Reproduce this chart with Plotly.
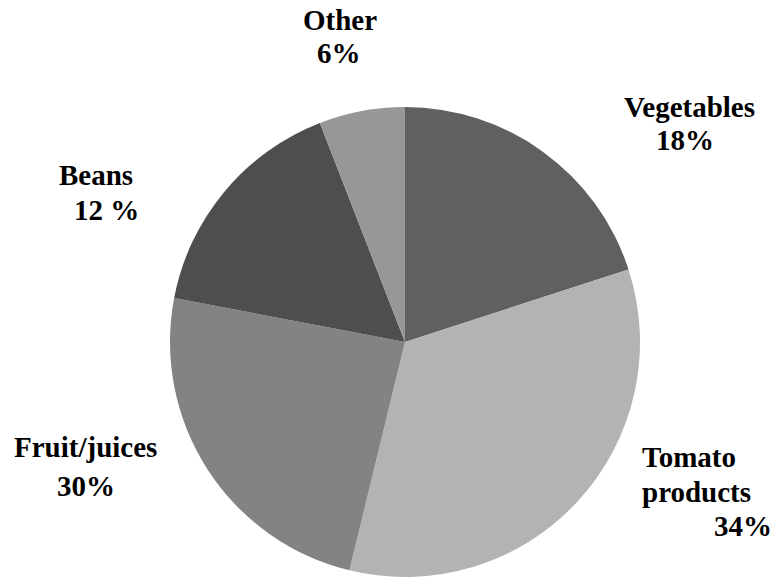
import plotly.graph_objects as go

categories = ["Vegetables", "Tomato products", "Fruit/juices", "Beans", "Other"]
slice_values = [20, 33.8, 24.2, 16.1, 5.9]
colors = ["#606060", "#b3b3b3", "#838383", "#4e4e4e", "#979797"]

# text lines as printed on the chart
label_lines = [
    ["Vegetables", "18%"],
    ["Tomato", "products", "34%"],
    ["Fruit/juices", "30%"],
    ["Beans", "12 %"],
    ["Other", "6%"],
]
# pixel positions (x left edge, y center) of each line
label_pos = [
    [(622, 107), (654, 140)],
    [(640, 457), (640, 492), (712, 526)],
    [(12, 447), (55, 486)],
    [(57, 175), (72, 210)],
    [(301, 20), (315, 53)],
]

W, H = 777, 579

fig = go.Figure(go.Pie(
    labels=categories,
    values=slice_values,
    sort=False,
    direction="clockwise",
    rotation=0,
    marker=dict(colors=colors, line=dict(width=0)),
    textinfo="none",
    hoverinfo="label+percent",
    showlegend=False,
    domain=dict(x=[170 / W, 640 / W], y=[(H - 577) / H, (H - 107) / H]),
))

annotations = []
for lines, poss in zip(label_lines, label_pos):
    for txt, (px, py) in zip(lines, poss):
        annotations.append(dict(
            text="<b>" + txt + "</b>",
            x=px / W, y=1 - py / H,
            xref="paper", yref="paper",
            xanchor="left", yanchor="middle",
            showarrow=False,
            font=dict(family="Times New Roman, Liberation Serif, serif",
                      size=29, color="#000000"),
        ))

fig.update_layout(
    width=W, height=H,
    margin=dict(l=0, r=0, t=0, b=0),
    paper_bgcolor="white",
    plot_bgcolor="white",
    annotations=annotations,
)

fig.write_html("out.html")
